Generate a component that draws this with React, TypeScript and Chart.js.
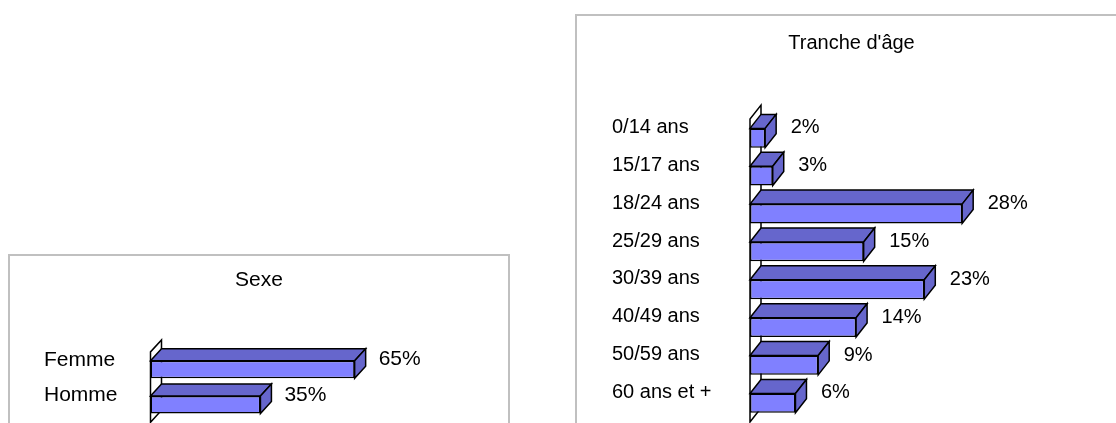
import React, { useEffect, useRef } from 'react';
import { Chart, registerables } from 'chart.js';

Chart.register(...registerables);

// ---- Data ----
const sexeTitle = 'Sexe';
const sexeCategories = ['Femme', 'Homme'];
const sexeValues = [65, 35];

const ageTitle = "Tranche d'âge";
const ageCategories = ['0/14 ans', '15/17 ans', '18/24 ans', '25/29 ans', '30/39 ans', '40/49 ans', '50/59 ans', '60 ans et +'];
const ageValues = [2, 3, 28, 15, 23, 14, 9, 6];

const FONT = "'Liberation Sans', Arial, Helvetica, sans-serif";
const FRONT = '#8080FF';
const SHADE = '#6666CC';
const LINE = 1.5;

const bar3dPlugin = {
  id: 'bar3d',
  beforeDatasetsDraw(chart: any, _args: any, opts: any) {
    const { ctx, chartArea } = chart;
    const x0 = chart.scales.x.getPixelForValue(0);
    const { dx, dy } = opts;
    ctx.save();
    ctx.beginPath();
    ctx.moveTo(x0, chartArea.bottom);
    ctx.lineTo(x0, chartArea.top);
    ctx.lineTo(x0 + dx, chartArea.top - dy);
    ctx.lineTo(x0 + dx, chartArea.bottom - dy);
    ctx.closePath();
    ctx.fillStyle = '#ffffff';
    ctx.fill();
    ctx.strokeStyle = '#000';
    ctx.lineWidth = LINE;
    ctx.stroke();
    ctx.restore();
  },
  afterDatasetsDraw(chart: any, _args: any, opts: any) {
    const { ctx } = chart;
    const { dx, dy, labelGap, labelDy, fontSize } = opts;
    const meta = chart.getDatasetMeta(0);
    const values = chart.data.datasets[0].data;
    ctx.save();
    ctx.lineWidth = LINE;
    ctx.lineJoin = 'miter';
    ctx.strokeStyle = '#000';
    meta.data.forEach((el: any, i: number) => {
      const p = el.getProps(['x', 'y', 'base', 'height'], true);
      const xr = p.x;
      const xb = p.base;
      const top = p.y - p.height / 2;
      const bottom = p.y + p.height / 2;
      // top face
      ctx.beginPath();
      ctx.moveTo(xb, top);
      ctx.lineTo(xb + dx, top - dy);
      ctx.lineTo(xr + dx, top - dy);
      ctx.lineTo(xr, top);
      ctx.closePath();
      ctx.fillStyle = SHADE;
      ctx.fill();
      ctx.stroke();
      // side face
      ctx.beginPath();
      ctx.moveTo(xr, top);
      ctx.lineTo(xr + dx, top - dy);
      ctx.lineTo(xr + dx, bottom - dy);
      ctx.lineTo(xr, bottom);
      ctx.closePath();
      ctx.fillStyle = SHADE;
      ctx.fill();
      ctx.stroke();
      // value label
      ctx.fillStyle = '#000';
      ctx.font = `${fontSize}px ${FONT}`;
      ctx.textAlign = 'left';
      ctx.textBaseline = 'middle';
      ctx.fillText(`${Math.round(values[i])}%`, p.x + labelGap, top + labelDy);
    });
    ctx.restore();
  },
};

type PanelProps = {
  title: string;
  categories: string[];
  values: number[];
  left: number;
  top: number;
  width: number;
  height: number;
  padL: number;
  padR: number;
  padB: number;
  axisW: number;
  xMax: number;
  fontSize: number;
  titlePadTop: number;
  titlePadBottom: number;
  barPct: number;
  labelOffset: number;
  dx: number;
  dy: number;
  labelGap: number;
  labelDy: number;
};

function BarPanel(props: PanelProps) {
  const ref = useRef<HTMLCanvasElement | null>(null);
  useEffect(() => {
    if (!ref.current) return;
    const chart = new Chart(ref.current, {
      type: 'bar',
      data: {
        labels: props.categories,
        datasets: [
          {
            data: props.values,
            backgroundColor: FRONT,
            borderColor: '#000',
            borderWidth: LINE,
            borderSkipped: false,
            categoryPercentage: 1,
            barPercentage: props.barPct,
          },
        ],
      },
      options: {
        indexAxis: 'y',
        responsive: false,
        animation: false,
        layout: { padding: { left: props.padL, right: props.padR, top: 0, bottom: props.padB } },
        plugins: {
          legend: { display: false },
          tooltip: { enabled: false },
          title: {
            display: true,
            text: props.title,
            color: '#000',
            font: { family: FONT, size: props.fontSize, weight: 'normal' },
            padding: { top: props.titlePadTop, bottom: props.titlePadBottom },
          },
          bar3d: {
            dx: props.dx,
            dy: props.dy,
            labelGap: props.labelGap,
            labelDy: props.labelDy,
            fontSize: props.fontSize,
          },
        } as any,
        scales: {
          x: { display: false, min: 0, max: props.xMax },
          y: {
            grid: { display: false },
            border: { display: false },
            ticks: {
              color: '#000',
              font: { family: FONT, size: props.fontSize },
              crossAlign: 'far',
              labelOffset: props.labelOffset,
              padding: 0,
            },
            afterFit: (s: any) => {
              s.width = props.axisW;
              s.paddingTop = 0;
              s.paddingBottom = 0;
            },
          },
        },
      },
      plugins: [bar3dPlugin as any],
    } as any);
    return () => chart.destroy();
  }, []);
  return (
    <canvas
      ref={ref}
      width={props.width}
      height={props.height}
      style={{ position: 'absolute', left: props.left, top: props.top, width: props.width, height: props.height }}
    />
  );
}

export default function App() {
  return (
    <div style={{ position: 'absolute', left: 0, top: 0, width: 1116, height: 423, overflow: 'hidden', background: '#fff' }}>
      <div style={{ position: 'absolute', left: 8, top: 254, width: 502, height: 300, boxSizing: 'border-box', border: '2px solid #c0c0c0' }} />
      <div style={{ position: 'absolute', left: 575, top: 14, width: 560, height: 500, boxSizing: 'border-box', border: '2px solid #c0c0c0' }} />
      <BarPanel
        title={sexeTitle}
        categories={sexeCategories}
        values={sexeValues}
        left={10}
        top={256}
        width={498}
        height={167}
        padL={34}
        padR={34}
        padB={0.7}
        axisW={106.5}
        xMax={103}
        fontSize={21}
        titlePadTop={11.9}
        titlePadBottom={58.8}
        barPct={0.5}
        labelOffset={-9.5}
        dx={11}
        dy={12}
        labelGap={24}
        labelDy={-1}
      />
      <BarPanel
        title={ageTitle}
        categories={ageCategories}
        values={ageValues}
        left={577}
        top={16}
        width={524}
        height={407}
        padL={35}
        padR={10}
        padB={1}
        axisW={138}
        xMax={45}
        fontSize={20}
        titlePadTop={15}
        titlePadBottom={64.1}
        barPct={0.51}
        labelOffset={-10.5}
        dx={11}
        dy={14}
        labelGap={25.5}
        labelDy={-0.5}
      />
    </div>
  );
}
